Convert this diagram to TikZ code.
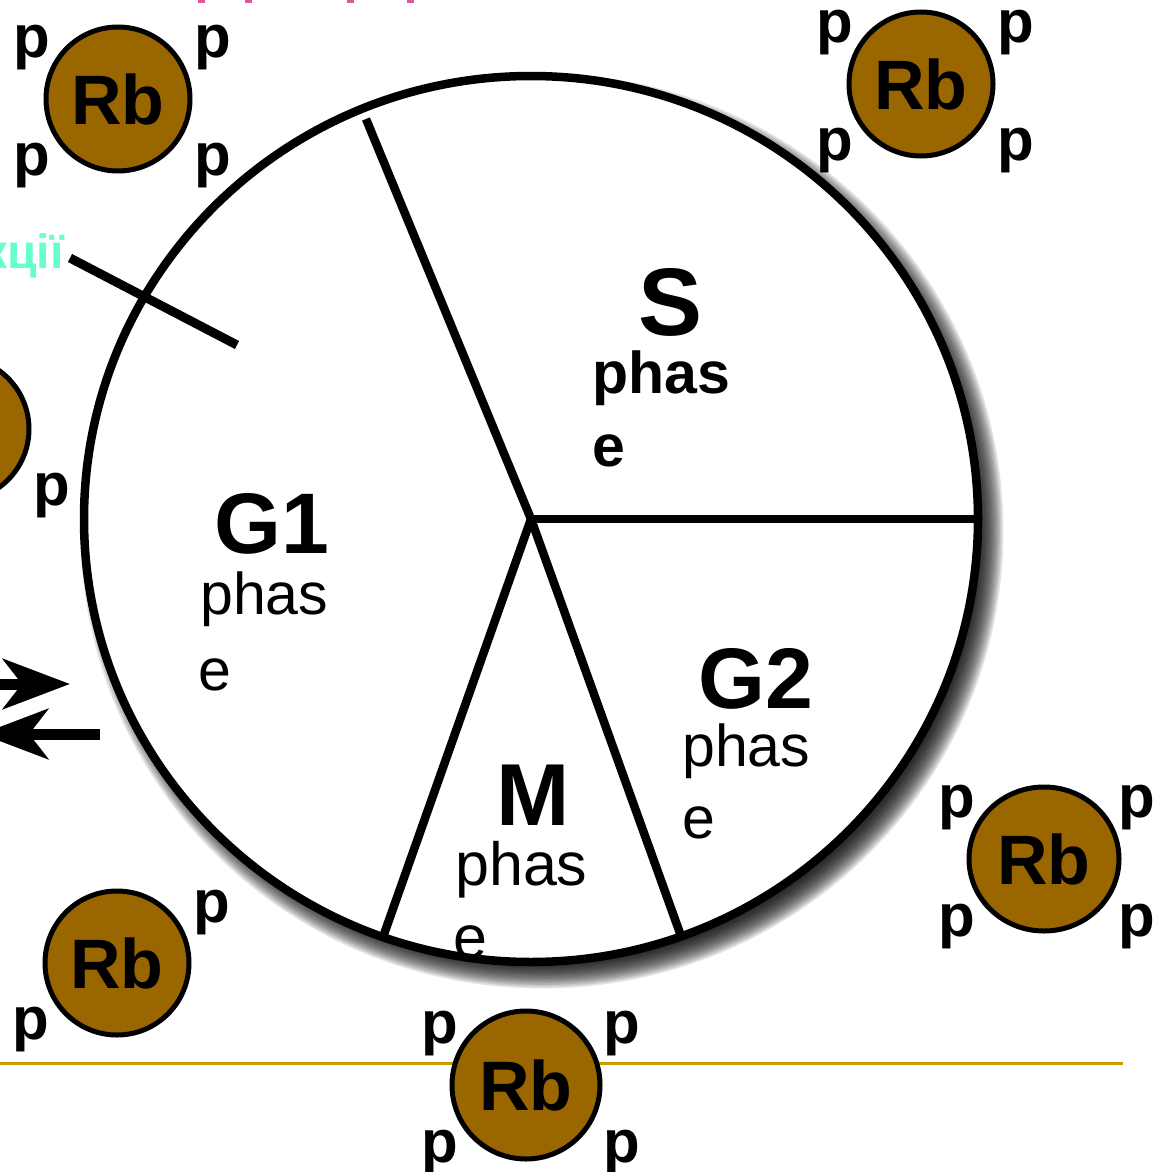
\documentclass[tikz,border=0pt]{standalone}
\usepackage{fontspec}
\setmainfont{Liberation Sans}
\usetikzlibrary{arrows.meta,calc,shapes.geometric}
\definecolor{rbfill}{HTML}{996600}
\definecolor{goldline}{HTML}{CC9900}
\definecolor{mint}{HTML}{66FFCC}
\definecolor{pinkmark}{HTML}{E0559E}
\newcommand{\fsz}[1]{\fontsize{#1}{#1}\selectfont}
\tikzset{
  rbatom/.style={circle, draw=black, line width=5pt, fill=rbfill,
    minimum size=144pt, inner sep=0pt, font=\fsz{70}\bfseries},
  pmark/.style={anchor=base west, inner sep=0pt, font=\fsz{60}\bfseries},
  phasetitle/.style={anchor=base west, inner sep=0pt},
  phasetext/.style={anchor=base west, inner sep=0pt},
  sector/.style={line width=8.5pt, black},
  bigarrow/.style={line width=11pt, -{Stealth[length=67pt, width=50pt, inset=19pt]}},
}
\begin{document}
\begin{tikzpicture}[x=1pt, y=-1pt]
\useasboundingbox (0,0) rectangle (1163,1172);
\clip (0,0) rectangle (1163,1172);

% faint pink marks along the top edge
\foreach \px in {198,245,347,407}
  \fill[pinkmark] (\px,0) rectangle ++(7,3);

% gold rule behind the bottom atom
\coordinate (ruleL) at (0,1063);
\coordinate (ruleR) at (1123,1063);
\draw[goldline, line width=3pt] (ruleL) -- (ruleR);

% cell-cycle disc: soft shadow, then the disc itself
\coordinate (cc) at (531,519);
\coordinate (sh) at (542,531);
\foreach \k in {-5,...,8}
  \fill[black, opacity=0.115] (sh) ellipse [x radius={447pt+1.8pt*\k}, y radius={443pt+1.8pt*\k}];
\draw[fill=white, line width=8.5pt] (cc) ellipse [x radius=447pt, y radius=443pt];

% sector boundaries
\coordinate (eTop) at (366,119);
\coordinate (eRight) at (975,519);
\coordinate (eBL) at (383,937);
\coordinate (eBR) at (681,936);
\draw[sector] (cc) -- (eTop);
\draw[sector] (cc) -- (eRight);
\draw[sector] (cc) -- (eBL);
\draw[sector] (cc) -- (eBR);

% phase labels
\node[anchor=base, inner sep=0pt, font=\fsz{96}\bfseries] (sT) at (671,335) {S};
\node[phasetext, font=\fsz{59}\bfseries] (sP) at (592,393) {phas};
\node[phasetext, font=\fsz{59}\bfseries] (sE) at (592,466) {e};

\node[phasetitle, font=\fsz{86}\bfseries] (g1T) at (214,553) {G1};
\node[phasetext, font=\fsz{59}] (g1P) at (200,614) {phas};
\node[phasetext, font=\fsz{59}] (g1E) at (198,690) {e};

\node[phasetitle, font=\fsz{86}\bfseries] (g2T) at (698,708) {G2};
\node[phasetext, font=\fsz{59}] (g2P) at (682,766) {phas};
\node[phasetext, font=\fsz{59}] (g2E) at (682,838) {e};

\node[phasetitle, font=\fsz{88}\bfseries] (mT) at (496,825) {M};
\node[phasetext, font=\fsz{61}] (mP) at (455,885) {phas};
\node[phasetext, font=\fsz{61}] (mE) at (453,958) {e};

% restriction bar across the G1 edge
\coordinate (barA) at (70,258);
\coordinate (barB) at (237,345);
\draw[line width=9pt] (barA) -- (barB);
\node[anchor=base east, inner sep=0pt, text=mint, font=\fsz{48}\bfseries] (kc) at (64,268) {кції};

% two-way arrows on the left
\coordinate (arR0) at (-10,684);
\coordinate (arR1) at (70,684);
\coordinate (arL0) at (100,734);
\coordinate (arL1) at (-19,734);
\draw[bigarrow] (arR0) -- (arR1);
\draw[bigarrow] (arL0) -- (arL1);

% Rb atoms with their p marks
\node[rbatom] (rbA) at (118,99) {Rb};
\node[pmark] (pA1) at ($(rbA)+(-105,-41)$) {p};
\node[pmark] (pA2) at ($(rbA)+(76,-41)$) {p};
\node[pmark] (pA3) at ($(rbA)+(-105,76)$) {p};
\node[pmark] (pA4) at ($(rbA)+(76,76)$) {p};

\node[rbatom] (rbB) at (921,84) {Rb};
\node[pmark] (pB1) at ($(rbB)+(-105,-41)$) {p};
\node[pmark] (pB2) at ($(rbB)+(76,-41)$) {p};
\node[pmark] (pB3) at ($(rbB)+(-105,76)$) {p};
\node[pmark] (pB4) at ($(rbB)+(76,76)$) {p};

\node[rbatom, ellipse, minimum width=150pt, minimum height=144pt] (rbC) at (1044,859) {Rb};
\node[pmark] (pC1) at ($(rbC)+(-106,-42)$) {p};
\node[pmark] (pC2) at ($(rbC)+(74,-42)$) {p};
\node[pmark] (pC3) at ($(rbC)+(-106,77)$) {p};
\node[pmark] (pC4) at ($(rbC)+(74,77)$) {p};

\node[rbatom] (rbD) at (117,963) {Rb};
\node[pmark] (pD2) at ($(rbD)+(76,-41)$) {p};
\node[pmark] (pD3) at ($(rbD)+(-105,76)$) {p};

\node[rbatom, minimum size=148pt] (rbE) at (526,1085) {Rb};
\node[pmark] (pE1) at ($(rbE)+(-105,-42)$) {p};
\node[pmark] (pE2) at ($(rbE)+(77,-42)$) {p};
\node[pmark] (pE3) at ($(rbE)+(-105,77)$) {p};
\node[pmark] (pE4) at ($(rbE)+(77,77)$) {p};

\node[rbatom] (rbF) at (-43,429) {Rb};
\node[pmark] (pF4) at ($(rbF)+(76,76)$) {p};
\end{tikzpicture}
\end{document}
